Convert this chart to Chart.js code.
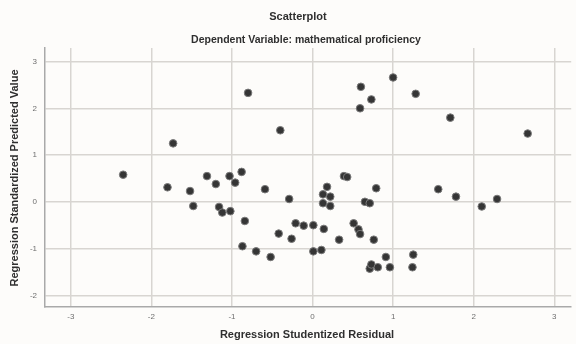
<!DOCTYPE html>
<html>
<head>
<meta charset="utf-8">
<script src="https://cdn.jsdelivr.net/npm/chart.js@4"></script>
<style>
  html, body { margin: 0; padding: 0; background: #fdfcfa; }
  #wrap { width: 576px; height: 344px; position: relative; }
</style>
</head>
<body>
<div id="wrap"><canvas id="scatterChart"></canvas></div>
<script>
const residuals = [
  -2.35, -1.80, -1.73, -1.52, -1.48, -1.31, -1.20, -1.16, -1.12, -1.03,
  -1.02, -0.96, -0.88, -0.87, -0.84, -0.80, -0.70, -0.59, -0.52, -0.42,
  -0.40, -0.29, -0.26, -0.21, -0.11, 0.01, 0.01, 0.11, 0.13, 0.13,
  0.14, 0.18, 0.22, 0.22, 0.33, 0.39, 0.43, 0.51, 0.57, 0.59,
  0.59, 0.60, 0.65, 0.71, 0.71, 0.73, 0.73, 0.76, 0.79, 0.81,
  0.91, 0.96, 1.00, 1.24, 1.25, 1.28, 1.56, 1.71, 1.78, 2.10,
  2.29, 2.67
];
const predicted = [
  0.58, 0.31, 1.25, 0.23, -0.09, 0.55, 0.38, -0.11, -0.23, 0.55,
  -0.20, 0.41, 0.64, -0.95, -0.41, 2.33, -1.06, 0.27, -1.18, -0.68,
  1.53, 0.06, -0.79, -0.46, -0.51, -0.50, -1.06, -1.03, 0.16, -0.03,
  -0.58, 0.32, 0.11, -0.09, -0.81, 0.55, 0.53, -0.46, -0.59, -0.69,
  2.00, 2.46, 0.00, -0.03, -1.43, 2.19, -1.34, -0.81, 0.29, -1.40,
  -1.18, -1.40, 2.66, -1.40, -1.13, 2.31, 0.27, 1.80, 0.11, -0.10,
  0.06, 1.46
];
const xTicks = [-3, -2, -1, 0, 1, 2, 3];
const yTicks = [-2, -1, 0, 1, 2, 3];

const titleText = "Scatterplot";
const subtitleText = "Dependent Variable: mathematical proficiency";
const xTitle = "Regression Studentized Residual";
const yTitle = "Regression Standardized Predicted Value";

const labelsPlugin = {
  id: "spssLabels",
  beforeDraw(chart) {
    const ctx = chart.ctx;
    ctx.save();
    ctx.fillStyle = "#fdfcfa";
    ctx.fillRect(0, 0, chart.width, chart.height);
    ctx.restore();
  },
  afterDraw(chart) {
    const ctx = chart.ctx;
    ctx.save();
    ctx.fillStyle = "#2f2f2f";
    ctx.textAlign = "center";
    ctx.textBaseline = "middle";
    ctx.font = "bold 11px 'Liberation Sans', Arial, sans-serif";
    ctx.fillText(titleText, 298, 17);
    ctx.font = "bold 10.5px 'Liberation Sans', Arial, sans-serif";
    ctx.fillText(subtitleText, 306, 40);
    ctx.font = "bold 11px 'Liberation Sans', Arial, sans-serif";
    ctx.fillText(xTitle, 307, 335);
    ctx.translate(15, 178);
    ctx.rotate(-Math.PI / 2);
    ctx.fillText(yTitle, 0, 0);
    ctx.restore();
  },
};

const points = residuals.map((x, i) => ({ x, y: predicted[i] }));

new Chart(document.getElementById("scatterChart"), {
  type: "scatter",
  data: {
    datasets: [
      {
        data: points,
        backgroundColor: "#353535",
        borderColor: "#7a7a7a",
        borderWidth: 1,
        pointRadius: 3.8,
        pointHoverRadius: 3.8,
      },
    ],
  },
  options: {
    responsive: true,
    maintainAspectRatio: false,
    animation: false,
    layout: { padding: { top: 48, right: 0, left: 0, bottom: 0 } },
    plugins: {
      legend: { display: false },
      tooltip: { enabled: false },
    },
    scales: {
      x: {
        type: "linear",
        min: -3.32,
        max: 3.21,
        afterBuildTicks: (scale) => { scale.ticks = xTicks.map((v) => ({ value: v })); },
        afterFit: (scale) => { scale.height = 37; },
        ticks: {
          color: "#6f6f6f",
          font: { size: 8, family: "'Liberation Sans', Arial, sans-serif" },
          padding: 5,
          maxRotation: 0,
        },
        grid: { color: "#d8d5d1", lineWidth: 1.5, drawTicks: false },
        border: { color: "#a9a9a9", width: 1.5 },
      },
      y: {
        type: "linear",
        min: -2.25,
        max: 3.29,
        afterBuildTicks: (scale) => { scale.ticks = yTicks.map((v) => ({ value: v })); },
        afterFit: (scale) => { scale.width = 45; },
        ticks: {
          color: "#6f6f6f",
          font: { size: 8, family: "'Liberation Sans', Arial, sans-serif" },
          padding: 8,
        },
        grid: { color: "#d8d5d1", lineWidth: 1.5, drawTicks: false },
        border: { color: "#a9a9a9", width: 1.5 },
      },
    },
  },
  plugins: [labelsPlugin],
});
</script>
</body>
</html>
